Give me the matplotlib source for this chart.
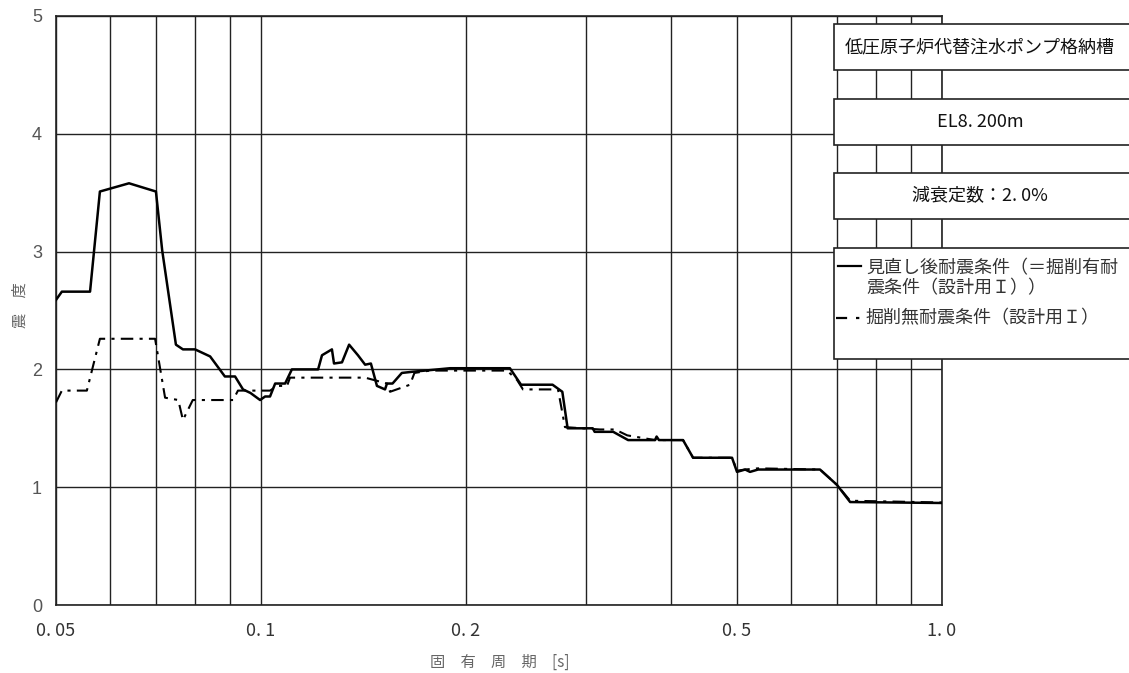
import matplotlib
matplotlib.use("Agg")
import matplotlib.pyplot as plt
from matplotlib.patches import Rectangle
from matplotlib.lines import Line2D

plt.rcParams['font.family'] = ['Noto Sans CJK JP', 'DejaVu Sans']

# 見直し後耐震条件（＝掘削有耐震条件（設計用Ｉ））
period_a = [0.05, 0.051, 0.0561, 0.058, 0.064, 0.0701, 0.0716, 0.075, 0.0768, 0.080,
            0.0842, 0.0885, 0.0916, 0.0941, 0.0965, 0.0997, 0.1014, 0.1031, 0.1049,
            0.1085, 0.111, 0.1213, 0.1229, 0.1271, 0.128, 0.1315, 0.1347, 0.1388,
            0.1422, 0.145, 0.148, 0.1521, 0.1531, 0.156, 0.161, 0.167, 0.1895, 0.232,
            0.2409, 0.268, 0.277, 0.282, 0.307, 0.309, 0.329, 0.346, 0.379, 0.381,
            0.384, 0.4166, 0.431, 0.4917, 0.5, 0.514, 0.5225, 0.537, 0.662, 0.701,
            0.733, 1.0]
accel_a = [2.59, 2.66, 2.66, 3.51, 3.58, 3.51, 3.01, 2.21, 2.17, 2.17,
           2.11, 1.94, 1.94, 1.83, 1.80, 1.74, 1.77, 1.77, 1.88,
           1.88, 2.00, 2.00, 2.12, 2.17, 2.05, 2.06, 2.21, 2.12,
           2.04, 2.05, 1.86, 1.83, 1.88, 1.88, 1.97, 1.98, 2.01, 2.01,
           1.87, 1.87, 1.81, 1.50, 1.50, 1.47, 1.47, 1.40, 1.40, 1.43,
           1.40, 1.40, 1.25, 1.25, 1.13, 1.15, 1.13, 1.15, 1.15, 1.02,
           0.874, 0.866]

# 掘削無耐震条件（設計用Ｉ）
period_b = [0.05, 0.051, 0.0555, 0.058, 0.0699, 0.0723, 0.0756, 0.0768, 0.0794, 0.091,
            0.0925, 0.1031, 0.1056, 0.1092, 0.1103, 0.1422, 0.1531, 0.1547, 0.1655,
            0.168, 0.177, 0.2298, 0.2377, 0.2425, 0.273, 0.2795, 0.3146, 0.331,
            0.345, 0.379, 0.381, 0.384, 0.4166, 0.431, 0.4917, 0.5, 0.514, 0.537,
            0.662, 0.701, 0.733, 1.0]
accel_b = [1.72, 1.82, 1.82, 2.26, 2.26, 1.76, 1.74, 1.57, 1.74, 1.74,
           1.82, 1.82, 1.86, 1.86, 1.93, 1.93, 1.88, 1.81, 1.87,
           1.97, 1.99, 1.99, 1.91, 1.83, 1.83, 1.51, 1.49, 1.49,
           1.44, 1.40, 1.42, 1.40, 1.40, 1.25, 1.25, 1.14, 1.15, 1.16,
           1.15, 1.02, 0.885, 0.87]

xtick_vals = [0.05, 0.1, 0.2, 0.5, 1.0]
xtick_labels = ['0. 05', '0. 1', '0. 2', '0. 5', '1. 0']
grid_x = [0.06, 0.07, 0.08, 0.09, 0.3, 0.4, 0.6, 0.7, 0.8, 0.9]

box_texts = ['低圧原子炉代替注水ポンプ格納槽', 'EL8. 200m', '減衰定数：2. 0%']
legend_a = '見直し後耐震条件（＝掘削有耐\n震条件（設計用Ｉ））'
legend_b = '掘削無耐震条件（設計用Ｉ）'

W, H = 1129, 673
fig = plt.figure(figsize=(11.29, 6.73), dpi=100)
ax = fig.add_axes([56/W, 68/H, 886/W, 589/H])

ax.plot(period_a, accel_a, color='black', lw=1.8, zorder=3)
ax.plot(period_b, accel_b, color='black', lw=1.5, linestyle=(0, (6, 3, 1.5, 3)), zorder=3)

ax.set_xscale('log')
ax.set_xlim(0.05, 1.0)
ax.set_ylim(0, 5)
ax.set_xticks(xtick_vals)
ax.set_xticklabels(xtick_labels, fontsize=13, color='#333333')
ax.set_xticks(grid_x, minor=True)
ax.set_xticklabels([], minor=True)
ax.set_yticks([0, 1, 2, 3, 4, 5])
ax.set_yticklabels(['0', '1', '2', '3', '4', '5'], fontsize=13, color='#555555',
                   family='Liberation Sans')
ax.tick_params(which='both', length=0)
ax.tick_params(axis='x', pad=12)
ax.tick_params(axis='y', pad=10)
ax.grid(True, which='both', color='#222222', lw=1.0)
for s in ax.spines.values():
    s.set_color('#222222')
    s.set_linewidth(1.2)

fig.text(500/W, 1 - 662/H, '固　有　周　期　[s]', fontsize=11, color='#666666',
         ha='center', va='center')
fig.text(20/W, 1 - 305/H, '震　度', fontsize=11, color='#666666', rotation=90,
         ha='center', va='center')

# boxes on the right
boxes = [(24, 70), (99, 145), (173, 219)]
for (top, bot), txt in zip(boxes, box_texts):
    r = Rectangle((834/W, 1 - bot/H), (1140 - 834)/W, (bot - top)/H,
                  transform=fig.transFigure, facecolor='white', edgecolor='#222222',
                  lw=1.2, zorder=5)
    fig.add_artist(r)
    fig.text(980/W, 1 - (top + bot)/2/H, txt, fontsize=13, ha='center', va='center',
             color='#111111', zorder=6)

r = Rectangle((834/W, 1 - 359/H), (1140 - 834)/W, (359 - 248)/H,
              transform=fig.transFigure, facecolor='white', edgecolor='#222222',
              lw=1.2, zorder=5)
fig.add_artist(r)
fig.add_artist(Line2D([838/W, 861/W], [1 - 266/H, 1 - 266/H], color='black', lw=1.6,
                      transform=fig.transFigure, zorder=6))
fig.add_artist(Line2D([836/W, 861/W], [1 - 318/H, 1 - 318/H], color='black', lw=1.6,
                      linestyle=(0, (5, 4, 1.5, 4)), transform=fig.transFigure, zorder=6))
fig.text(866/W, 1 - 278/H, legend_a, fontsize=13, ha='left', va='center',
         color='#333333', linespacing=1.15, zorder=6)
fig.text(866/W, 1 - 318/H, legend_b, fontsize=13, ha='left', va='center',
         color='#333333', zorder=6)

fig.savefig('out.png', dpi=100)
